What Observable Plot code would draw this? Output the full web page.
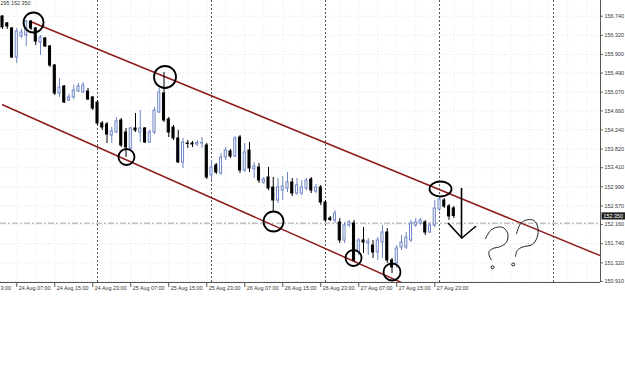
<!DOCTYPE html>
<html><head><meta charset="utf-8">
<script src="https://cdn.jsdelivr.net/npm/d3@7"></script>
<script src="https://cdn.jsdelivr.net/npm/@observablehq/plot@0.6"></script>
<style>body{margin:0;background:#fff}#chart svg{display:block}</style>
</head><body><div id="chart"></div>
<script>
// hours counted from 24 Aug 00:00 (H1 candles)
const firstHour = 4;
const open = [156.733,156.580,156.470,155.832,156.294,156.316,156.623,156.470,156.162,156.250,156.074,155.656,155.041,155.195,154.887,154.953,155.085,155.063,155.085,154.953,154.843,154.382,154.360,154.118,154.184,154.448,154.184,153.832,154.272,154.184,154.272,153.964,154.184,154.624,155.041,154.470,154.294,154.052,153.525,153.942,153.942,153.920,153.942,153.898,153.239,153.459,153.283,153.634,153.766,153.656,154.074,153.349,153.788,153.371,153.415,153.085,153.195,152.975,152.689,152.909,152.953,153.085,152.843,152.843,152.953,153.151,152.887,152.975,152.645,152.294,152.250,152.206,151.811,152.140,152.184,151.547,151.811,151.744,151.700,151.547,151.767,151.986,151.371,151.305,151.657,151.657,151.811,152.140,152.184,152.206,151.986,152.140,152.492,152.689,152.557,152.514];
const high = [156.755,156.602,156.492,156.470,156.448,156.645,156.645,156.492,156.316,156.272,156.096,155.678,155.371,155.217,155.019,155.217,155.261,155.283,155.151,154.975,154.887,154.426,154.404,154.294,154.514,154.492,154.272,154.294,154.602,154.667,154.294,154.228,154.733,155.151,155.503,154.514,154.338,154.228,154.052,154.008,153.986,154.008,154.074,153.942,153.569,153.503,153.722,153.854,153.810,154.096,154.118,153.942,153.964,153.525,153.503,153.195,153.415,153.195,153.173,153.217,153.305,153.173,153.173,153.129,153.173,153.195,153.041,153.019,152.689,152.338,152.470,152.294,152.206,152.250,152.250,151.855,152.096,151.855,151.811,151.877,152.140,152.074,151.415,151.700,151.920,151.986,152.250,152.294,152.294,152.250,152.206,152.689,152.777,152.733,152.602,152.557];
const low = [156.448,156.448,155.810,155.700,156.250,156.074,156.426,156.096,155.876,156.052,155.612,154.997,154.953,154.821,154.865,154.909,155.063,155.041,154.887,154.667,154.338,154.228,153.942,153.942,154.162,153.854,153.634,153.788,154.184,153.964,153.942,153.942,154.140,154.602,154.404,154.074,154.008,153.503,153.393,153.832,153.854,153.876,153.832,153.151,153.129,153.261,153.239,153.569,153.612,153.634,153.283,153.305,153.305,153.173,153.063,153.041,152.909,152.425,152.623,152.689,152.865,152.777,152.799,152.799,152.909,152.843,152.843,152.579,152.206,152.228,152.184,151.744,151.744,152.096,151.327,151.481,151.525,151.481,151.415,151.371,151.415,151.305,151.085,151.195,151.591,151.613,151.767,152.096,152.140,151.920,151.964,152.096,152.448,152.514,152.250,152.294];
const close = [156.492,156.514,155.832,156.404,156.382,156.623,156.470,156.184,156.272,156.074,155.656,155.041,155.173,154.843,154.953,155.107,155.195,155.217,154.909,154.711,154.382,154.294,154.140,154.206,154.426,153.898,153.854,154.272,154.228,154.272,153.964,154.184,154.667,155.063,154.448,154.184,154.052,153.525,153.964,153.931,153.920,153.953,153.952,153.195,153.415,153.305,153.634,153.788,153.656,154.052,153.349,153.745,153.393,153.437,153.129,153.151,152.953,152.689,152.975,152.997,153.085,152.843,153.019,152.975,153.129,152.909,152.975,152.645,152.250,152.261,152.404,151.811,152.140,152.206,151.371,151.811,151.767,151.788,151.547,151.811,151.986,151.371,151.217,151.635,151.767,151.877,152.184,152.206,152.250,151.986,152.140,152.514,152.711,152.557,152.338,152.350];

const timeTickHours = [7,15,23,31,39,47,55,63,71,79,87,95];
const timeTickLabels = ["24 Aug 07:00","24 Aug 15:00","24 Aug 23:00","25 Aug 07:00","25 Aug 15:00","25 Aug 23:00","26 Aug 07:00","26 Aug 15:00","26 Aug 23:00","27 Aug 07:00","27 Aug 15:00","27 Aug 23:00"];
const leftEdgeLabel = "3:00"; // visible tail of the clipped "23 Aug 23:00"
const priceTicks = [156.740,156.320,155.900,155.490,155.070,154.660,154.240,153.820,153.410,152.990,152.570,152.160,151.740,151.320,150.910];
const separatorHours = [24,48,72,96,120];
const headerText = "295 152.350";
const lastPrice = 152.350;
const horizontalLevel = 152.191;

// drawn objects
const upperLineHours = [10,130];
const upperLinePrices = [156.619,151.470];
const lowerLineHours = [4,92];
const lowerLinePrices = [154.795,150.700];
const circleHours = [10.53,38.21,30.1,61.05,77.9,86.0];
const circlePrices = [156.601,155.404,153.645,152.228,151.426,151.118];
const circleRadii = [10,11,8,10,8,8.5];
const ellipseHour = 96.21, ellipsePrice = 152.942;
const arrowShaftHours = [100.63,100.63];
const arrowShaftPrices = [152.953,151.865];
const arrowHeadHours = [97.9,100.7,103.58];
const arrowHeadPrices = [152.184,151.865,152.118];
const q1Hours = [105.68,106.74,108.15,109.47,110.38,110.11,108.84,107.09,106.38,106.59,106.88];
const q1Prices = [151.848,152.030,152.103,152.089,151.958,151.773,151.678,151.628,151.553,151.443,151.386];
const q2Hours = [112.21,113.05,114.46,115.85,116.69,116.57,115.52,113.41,112.36,112.0];
const q2Prices = [151.958,152.177,152.265,152.250,152.103,151.883,151.722,151.663,151.590,151.459];
const qDotHours = [107.16,111.52];
const qDotPrices = [151.223,151.283];

const xMin = 3.579, xMax = 129.89, yMin = 150.887, yMax = 157.085;
const bullColor = "#6f86c6";
const channelColor = "#8e1b1b";

const candles = open.map((o,i)=>({t:firstHour+i, open:o, high:high[i], low:low[i], close:close[i]}));
const bulls = candles.filter(d=>d.close>=d.open);
const bears = candles.filter(d=>d.close<d.open);
const xTicks = timeTickHours.map((h,i)=>({h, label:timeTickLabels[i]}));
const toPts = (hs,ps)=>hs.map((h,i)=>({h, p:ps[i]}));
const circles = circleHours.map((h,i)=>({h, p:circlePrices[i], r:circleRadii[i]}));

const ellipseSymbol = {draw(ctx){const rx=11, ry=7.5, k=0.5523;
  ctx.moveTo(rx,0); ctx.bezierCurveTo(rx,ry*k,rx*k,ry,0,ry); ctx.bezierCurveTo(-rx*k,ry,-rx,ry*k,-rx,0);
  ctx.bezierCurveTo(-rx,-ry*k,-rx*k,-ry,0,-ry); ctx.bezierCurveTo(rx*k,-ry,rx,-ry*k,rx,0); ctx.closePath();}};
const boxSymbol = {draw(ctx){ctx.rect(-12,-3.6,24,7.2);}};

const chart = Plot.plot({
  width: 625, height: 382,
  marginTop: 0, marginLeft: 0, marginRight: 25, marginBottom: 100,
  x: {domain: [xMin, xMax], axis: null},
  y: {domain: [yMin, yMax], axis: null},
  r: {type: "identity"},
  style: {fontFamily: "Liberation Sans, Arial, sans-serif", fontSize: "5.4px", background: "#fff"},
  marks: [
    Plot.ruleY(priceTicks, {stroke: "#dde4ec", strokeDasharray: "1,2"}),
    Plot.ruleX(d3.range(3, 130, 4), {stroke: "#e6ebf1", strokeDasharray: "1,2"}),
    Plot.ruleX(separatorHours, {stroke: "#555", strokeDasharray: "2,2"}),
    Plot.ruleY([horizontalLevel], {stroke: "#a4a4a4", strokeDasharray: "6,2,2,2"}),
    Plot.line(toPts(upperLineHours, upperLinePrices), {x: "h", y: "p", stroke: channelColor, strokeWidth: 1.5, clip: true}),
    Plot.line(toPts(lowerLineHours, lowerLinePrices), {x: "h", y: "p", stroke: channelColor, strokeWidth: 1.5, clip: true}),
    Plot.ruleX(bulls, {x: "t", y1: "low", y2: "high", stroke: bullColor}),
    Plot.ruleX(bears, {x: "t", y1: "low", y2: "high", stroke: "#000"}),
    Plot.rect(bulls, {x1: d=>d.t-0.22, x2: d=>d.t+0.22, y1: "open", y2: "close", fill: "#fff", stroke: bullColor}),
    Plot.rect(bears, {x1: d=>d.t-0.22, x2: d=>d.t+0.22, y1: "open", y2: "close", fill: "#000", stroke: "#000"}),
    Plot.dot(circles, {x: "h", y: "p", r: "r", stroke: "#000", strokeWidth: 1.8, fill: "none"}),
    Plot.dot([{h: ellipseHour, p: ellipsePrice}], {x: "h", y: "p", r: 5, symbol: ellipseSymbol, stroke: "#000", strokeWidth: 1.8, fill: "none"}),
    Plot.line(toPts(arrowShaftHours, arrowShaftPrices), {x: "h", y: "p", stroke: "#000", strokeWidth: 1.6}),
    Plot.line(toPts(arrowHeadHours, arrowHeadPrices), {x: "h", y: "p", stroke: "#000", strokeWidth: 1.6}),
    Plot.line(toPts(q1Hours, q1Prices), {x: "h", y: "p", stroke: "#222", strokeWidth: 1, curve: "catmull-rom"}),
    Plot.line(toPts(q2Hours, q2Prices), {x: "h", y: "p", stroke: "#222", strokeWidth: 1, curve: "catmull-rom"}),
    Plot.dot(toPts(qDotHours, qDotPrices), {x: "h", y: "p", r: 1.5, stroke: "#222", strokeWidth: 1}),
    // axes
    Plot.ruleX([xMax], {y1: yMin, y2: yMax, stroke: "#555"}),
    Plot.ruleY([yMin], {x1: xMin, x2: xMax, stroke: "#555"}),
    Plot.ruleY(priceTicks, {x1: xMax, x2: xMax + 0.6, stroke: "#555"}),
    Plot.text(priceTicks, {x: xMax, y: d=>d, text: d=>d.toFixed(3), textAnchor: "start", dx: 4, fill: "#333"}),
    Plot.dot([lastPrice], {x: xMax, y: d=>d, r: 5, symbol: boxSymbol, fill: "#222", stroke: "none", dx: 13}),
    Plot.text([lastPrice], {x: xMax, y: d=>d, text: d=>d.toFixed(3), textAnchor: "start", dx: 3, fill: "#fff"}),
    Plot.ruleX(timeTickHours, {y1: yMin, y2: yMin - 0.11, stroke: "#555"}),
    Plot.text(xTicks, {x: "h", y: yMin, text: "label", textAnchor: "start", dx: 2, dy: 6, fill: "#333"}),
    Plot.text([leftEdgeLabel], {x: xMin, y: yMin, textAnchor: "start", dx: 0, dy: 6, fill: "#333"}),
    Plot.text([headerText], {frameAnchor: "top-left", textAnchor: "start", lineAnchor: "top", dx: 0, dy: 1, fill: "#333"})
  ]
});
document.getElementById("chart").appendChild(chart);
</script>
</body></html>
